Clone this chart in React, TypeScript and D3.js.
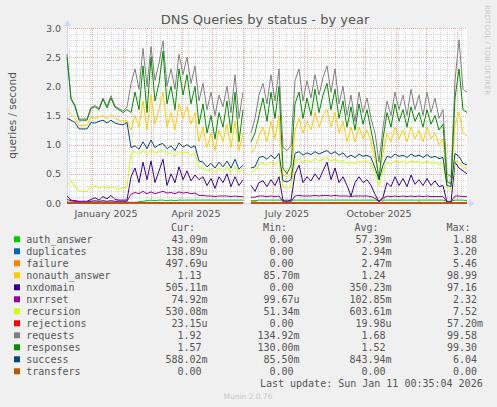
import React, { useEffect } from 'react'
import * as d3 from 'd3'

// samples every 4 days starting 2024-12-07, null = gap in data
const startDate = new Date(2024, 11, 7)
const endDate = new Date(2026, 0, 11)
const stepDays = 4

const auth_answer = [0.02,0.01,0.01,0.01,0.01,0.01,0.02,0.02,0.02,0.02,
  0.02,0.02,0.02,0.02,0.02,0.02,0.01,0.01,0.02,0.03,
  0.04,0.05,0.04,0.05,0.05,0.04,0.05,0.04,0.05,0.05,
  0.05,0.05,0.05,0.05,0.05,0.05,0.05,0.05,0.05,0.05,
  0.05,0.05,0.05,0.05,0.05,null,0.04,0.04,0.05,0.05,
  0.05,0.05,0.05,0.05,0.05,0.05,0.05,0.05,0.05,0.05,
  0.05,0.05,0.05,0.05,0.05,0.05,0.05,0.05,0.05,0.05,
  0.05,0.05,0.05,0.05,0.05,0.05,0.05,0.05,0.04,0.05,
  0.05,0.05,0.05,0.05,0.05,0.05,0.05,0.05,0.05,0.05,
  0.05,0.05,0.05,0.05,0.05,0.03,0.03,0.05,0.05,0.05,
  0.04]
const duplicates = [0,0,0,0,0,0,0,0,0,0,
  0,0,0,0,0,0,0.01,0.01,0.01,0.01,
  0.01,0.01,0.01,0,0,0,0,0,0,0,
  0,0,0,0,0,0,0,0,0,0,
  0,0,0,0,0,null,0,0,0,0,
  0,0,0,0,0,0,0,0,0,0,
  0,0,0,0,0,0,0,0,0,0,
  0,0,0,0,0,0,0,0,0,0,
  0,0,0,0,0,0,0,0,0,0,
  0,0,0,0,0,0,0,0,0,0,
  0]
const failure = [0,0.02,0.02,0.02,0,0,0,0,0,0,
  0,0,0,0,0,0,0,0,0,0,
  0,0,0,0,0,0,0,0,0,0,
  0,0,0,0,0,0,0,0,0,0,
  0,0,0,0,0,null,0.02,0.03,0,0,
  0,0,0,0,0,0,0,0,0,0,
  0,0,0,0,0,0,0,0,0,0,
  0,0,0,0,0,0,0,0,0,0.02,
  0,0,0,0,0,0,0,0,0.02,0,
  0,0,0,0,0,0,0,0,0.01,0,
  0]
const nonauth_answer = [1.6,1.52,1.45,1.33,1.33,1.33,1.47,1.45,1.48,1.5,
  1.44,1.52,1.45,1.42,1.4,1.42,1.25,1.5,1.3,1.75,
  1.25,1.85,1.35,1.6,1.9,1.3,1.55,1.25,1.7,1.45,
  1.65,1.35,1.55,1.05,1.3,0.95,1.2,0.9,1.25,1.05,
  1.35,0.95,1.4,0.9,1.2,null,0.85,0.95,1.15,1.3,
  1.05,1.4,1.1,1.5,0.48,0.45,0.5,1.25,1.45,1.2,
  1.4,1.25,1.55,1.3,1.5,1.6,1.3,1.55,1.2,1.4,
  1.05,1.3,1.05,1.3,1.1,1.25,1.05,0.75,0.45,0.85,
  1.2,1.05,1.3,1.1,1.25,1.05,1.3,1.1,1.25,1.05,
  1.3,1.1,1.2,1.0,1.1,0.35,0.35,1.35,1.55,1.2,
  1.15]
const nxdomain = [0.12,0.05,0.04,0.03,0.03,0.03,0.06,0.09,0.05,0.11,
  0.07,0.13,0.06,0.05,0.05,0.05,0.45,0.6,0.35,0.7,
  0.4,0.72,0.35,0.55,0.75,0.3,0.5,0.35,0.62,0.4,
  0.55,0.38,0.48,0.4,0.45,0.3,0.42,0.25,0.45,0.35,
  0.5,0.28,0.45,0.3,0.4,null,0.3,0.2,0.35,0.38,
  0.28,0.4,0.3,0.45,0.04,0.03,0.05,0.5,0.65,0.35,
  0.45,0.38,0.5,0.4,0.55,0.7,0.4,0.6,0.35,0.45,
  0.3,0.12,0.35,0.45,0.35,0.4,0.3,0.15,0.02,0.1,
  0.35,0.28,0.45,0.3,0.42,0.28,0.48,0.32,0.4,0.3,
  0.42,0.3,0.38,0.28,0.3,0.01,0.01,0.7,0.6,0.55,
  0.5]
const nxrrset = [0.06,0.04,0.03,0.02,0.02,0.02,0.03,0.04,0.03,0.04,
  0.03,0.04,0.03,0.03,0.03,0.03,0.15,0.18,0.16,0.2,
  0.16,0.19,0.16,0.18,0.2,0.17,0.18,0.16,0.19,0.17,
  0.18,0.16,0.17,0.13,0.13,0.12,0.12,0.11,0.12,0.12,
  0.12,0.11,0.12,0.11,0.11,null,0.1,0.1,0.12,0.12,
  0.11,0.12,0.11,0.12,0.02,0.02,0.02,0.12,0.13,0.12,
  0.12,0.12,0.13,0.12,0.13,0.13,0.12,0.13,0.12,0.12,
  0.12,0.11,0.12,0.12,0.12,0.12,0.11,0.08,0.03,0.08,
  0.12,0.11,0.12,0.11,0.12,0.11,0.12,0.11,0.12,0.11,
  0.12,0.11,0.11,0.11,0.11,0.02,0.02,0.12,0.12,0.11,
  0.11]
const recursion = [0.3,0.38,0.29,0.2,0.2,0.2,0.27,0.3,0.26,0.28,
  0.25,0.28,0.25,0.24,0.26,0.27,0.85,0.88,0.82,0.9,
  0.83,0.92,0.85,0.88,0.9,0.83,0.86,0.8,0.88,0.85,
  0.87,0.82,0.85,0.6,0.6,0.55,0.58,0.52,0.6,0.55,
  0.62,0.52,0.63,0.52,0.58,null,0.52,0.55,0.66,0.68,
  0.65,0.7,0.66,0.72,0.27,0.25,0.28,0.72,0.75,0.7,
  0.74,0.7,0.76,0.72,0.75,0.77,0.72,0.75,0.7,0.74,
  0.68,0.7,0.68,0.72,0.7,0.71,0.68,0.5,0.3,0.55,
  0.7,0.68,0.72,0.7,0.71,0.68,0.72,0.7,0.71,0.68,
  0.72,0.68,0.7,0.66,0.68,0.25,0.24,0.72,0.7,0.62,
  0.6]
const rejections = [0,0,0,0,0,0,0,0,0,0,
  0,0,0,0,0,0,0,0,0,0,
  0,0,0,0,0,0,0,0,0,0,
  0,0,0,0,0,0,0,0,0,0,
  0,0,0,0,0,null,0,0,0,0,
  0,0,0,0,0,0,0,0,0,0,
  0,0,0,0,0,0,0,0,0,0,
  0,0,0,0,0,0,0,0,0,0,
  0,0,0,0,0,0,0,0,0,0,
  0,0,0,0,0,0,0,0,0,0,
  0]
const requests = [2.55,1.8,1.68,1.44,1.44,1.44,1.64,1.67,1.62,1.8,
  1.66,1.84,1.66,1.62,1.58,1.64,2.05,2.3,1.95,2.65,
  2.0,2.68,2.1,2.4,2.78,2.0,2.3,1.95,2.55,2.2,
  2.5,2.05,2.35,1.75,2.05,1.6,1.9,1.5,1.85,1.65,
  2.0,1.55,2.2,1.45,1.9,null,1.2,1.45,1.85,2.05,
  1.7,2.2,1.75,2.3,0.95,0.9,0.98,2.1,2.3,1.75,
  2.1,1.8,2.2,1.85,2.15,2.35,1.9,2.3,1.7,2.0,
  1.5,1.85,1.4,1.9,1.55,1.8,1.45,1.2,0.7,1.3,
  1.75,1.5,1.9,1.6,1.85,1.5,1.95,1.6,1.85,1.5,
  1.9,1.55,1.8,1.45,1.6,0.5,0.45,2.1,2.8,1.95,
  1.9]
const responses = [2.5,1.78,1.65,1.42,1.42,1.42,1.62,1.65,1.6,1.78,
  1.63,1.8,1.64,1.6,1.55,1.6,1.55,1.9,1.6,2.35,
  1.55,2.5,1.75,2.05,2.6,1.7,2.0,1.6,2.3,1.85,
  2.2,1.7,2.0,1.35,1.7,1.2,1.5,1.1,1.55,1.3,
  1.75,1.2,1.9,1.05,1.6,null,1.05,1.2,1.5,1.8,
  1.4,1.9,1.45,2.0,0.6,0.5,0.65,1.7,1.9,1.45,
  1.8,1.5,1.95,1.55,1.85,2.05,1.6,1.95,1.45,1.75,
  1.3,1.65,1.25,1.7,1.35,1.6,1.25,0.9,0.4,1.1,
  1.55,1.3,1.7,1.4,1.6,1.3,1.65,1.4,1.55,1.3,
  1.6,1.35,1.5,1.25,1.35,0.38,0.32,1.8,2.3,1.6,
  1.55]
const success = [1.45,1.42,1.38,1.27,1.27,1.27,1.38,1.37,1.4,1.42,
  1.37,1.42,1.37,1.35,1.34,1.38,0.95,0.98,0.92,1.05,
  0.93,1.08,0.95,1.0,1.02,0.93,0.98,0.9,1.03,0.96,
  1.0,0.95,0.98,0.72,0.7,0.62,0.68,0.6,0.7,0.62,
  0.72,0.6,0.75,0.58,0.65,null,0.6,0.62,0.78,0.8,
  0.75,0.82,0.76,0.85,0.38,0.36,0.4,0.85,0.88,0.82,
  0.86,0.83,0.88,0.84,0.87,0.9,0.84,0.88,0.82,0.86,
  0.78,0.82,0.78,0.84,0.8,0.82,0.78,0.6,0.4,0.65,
  0.8,0.78,0.84,0.8,0.82,0.78,0.84,0.8,0.82,0.78,
  0.83,0.78,0.8,0.76,0.78,0.3,0.28,0.85,0.8,0.68,
  0.65]
const transfers = [0,0,0,0,0,0,0,0,0,0,
  0,0,0,0,0,0,0,0,0,0,
  0,0,0,0,0,0,0,0,0,0,
  0,0,0,0,0,0,0,0,0,0,
  0,0,0,0,0,null,0,0,0,0,
  0,0,0,0,0,0,0,0,0,0,
  0,0,0,0,0,0,0,0,0,0,
  0,0,0,0,0,0,0,0,0,0,
  0,0,0,0,0,0,0,0,0,0,
  0,0,0,0,0,0,0,0,0,0,
  0]

const seriesNames = ['auth_answer', 'duplicates', 'failure', 'nonauth_answer', 'nxdomain', 'nxrrset',
  'recursion', 'rejections', 'requests', 'responses', 'success', 'transfers']
const seriesValues = [auth_answer, duplicates, failure, nonauth_answer, nxdomain, nxrrset,
  recursion, rejections, requests, responses, success, transfers]
const seriesColors = ['#00CC00', '#0066B3', '#FF8000', '#FFCC00', '#330099', '#990099',
  '#CCFF00', '#FF0000', '#808080', '#008F00', '#00487D', '#B35A00']

const curValues = ['43.09m', '138.89u', '497.69u', '1.13', '505.11m', '74.92m', '530.08m', '23.15u', '1.92', '1.57', '588.02m', '0.00']
const minValues = ['0.00', '0.00', '0.00', '85.70m', '0.00', '99.67u', '51.34m', '0.00', '134.92m', '130.00m', '85.50m', '0.00']
const avgValues = ['57.39m', '2.94m', '2.47m', '1.24', '350.23m', '102.85m', '603.61m', '19.98u', '1.68', '1.52', '843.94m', '0.00']
const maxValues = ['1.88', '3.20', '5.46', '98.99', '97.16', '2.32', '7.52', '57.20m', '99.58', '99.30', '6.04', '0.00']
const columnHeaders = ['Cur:', 'Min:', 'Avg:', 'Max:']

const W = 497
const H = 407
const plot = { left: 67, top: 28, width: 400, height: 175 }
const sans = '"DejaVu Sans", sans-serif'
const mono = '"DejaVu Sans Mono", monospace'

export default function App() {
  useEffect(() => {
    document.body.style.margin = '0'
    document.body.style.background = '#F0F0F0'
  }, [])

  const x = d3.scaleTime().domain([startDate, endDate]).range([plot.left, plot.left + plot.width])
  const y = d3.scaleLinear().domain([0, 3]).range([plot.top + plot.height, plot.top])
  const dates = requests.map((_, i) => d3.timeDay.offset(startDate, i * stepDays))

  const line = d3.line<number | null>()
    .defined(d => d !== null)
    .x((_, i) => x(dates[i]))
    .y(d => y(d as number))

  const bottom = plot.top + plot.height
  const right = plot.left + plot.width
  const minorY = y.ticks(30)
  const majorY = y.ticks(6)
  const minorX = d3.timeMonday.range(startDate, endDate)
  const majorX = d3.timeMonth.range(startDate, endDate)
  // month labels sit half a month after the tick, like rrdtool does
  const labelX = d3.timeMonth.every(3)!.range(startDate, endDate)
    .filter(t => d3.timeDay.offset(t, 14) < endDate)
  const fmt = d3.timeFormat('%B %Y')

  const colNumEnd = [201.5, 293.5, 385.5, 477]
  const colHeadEnd = [195, 287, 378.5, 470.5]
  const columns = [curValues, minValues, avgValues, maxValues]
  const rowY = (k: number) => 243.3 + k * 12

  const splitVal = (v: string) => {
    const last = v[v.length - 1]
    return /[a-z]/i.test(last) ? [v.slice(0, -1), last] : [v, '']
  }

  return (
    <svg width={W} height={H} style={{ position: 'absolute', left: 0, top: 0, display: 'block' }}>
      <rect width={W} height={H} fill="#F0F0F0" />
      <rect x={plot.left} y={plot.top} width={plot.width} height={plot.height} fill="#FFFFFF" />

      {/* grid */}
      <g shapeRendering="crispEdges" strokeDasharray="1,1" strokeWidth={1}>
        {minorY.map(t => (
          <line key={'my' + t} x1={plot.left} x2={right} y1={Math.round(y(t)) + 0.5} y2={Math.round(y(t)) + 0.5} stroke="#D4D4D4" />
        ))}
        {minorX.map(t => (
          <line key={'mx' + t.getTime()} x1={Math.round(x(t)) + 0.5} x2={Math.round(x(t)) + 0.5} y1={plot.top} y2={bottom} stroke="#D4D4D4" />
        ))}
        {majorY.map(t => (
          <line key={'My' + t} x1={plot.left} x2={right} y1={Math.round(y(t)) + 0.5} y2={Math.round(y(t)) + 0.5} stroke="#EBA3A3" />
        ))}
        {majorX.map(t => (
          <line key={'Mx' + t.getTime()} x1={Math.round(x(t)) + 0.5} x2={Math.round(x(t)) + 0.5} y1={plot.top} y2={bottom} stroke="#EBA3A3" />
        ))}
      </g>

      {/* axes */}
      <line x1={plot.left + 0.5} x2={plot.left + 0.5} y1={bottom} y2={plot.top - 4} stroke="#CFD6F8" />
      <path d={`M${plot.left - 3},${plot.top - 2} L${plot.left + 0.5},${plot.top - 8} L${plot.left + 4},${plot.top - 2} Z`} fill="#CFD6F8" />
      <line x1={plot.left} x2={right + 4} y1={bottom + 0.5} y2={bottom + 0.5} stroke="#CFD6F8" />
      <path d={`M${right + 2},${bottom - 3} L${right + 8},${bottom + 0.5} L${right + 2},${bottom + 4} Z`} fill="#CFD6F8" />

      {/* series */}
      <g fill="none" strokeWidth={1}>
        {seriesValues.map((vals, i) => (
          <path key={seriesNames[i]} d={line(vals) || ''} stroke={seriesColors[i]} />
        ))}
      </g>

      {/* y ticks */}
      <g fontFamily={sans} fontSize={9.5} fill="#555555" textAnchor="end">
        {majorY.map(t => (
          <text key={'yt' + t} x={61} y={y(t) + 3.5}>{t.toFixed(1)}</text>
        ))}
      </g>
      {/* x labels */}
      <g fontFamily={sans} fontSize={9.5} fill="#555555" textAnchor="middle">
        {labelX.map(t => (
          <text key={'xl' + t.getTime()} x={x(d3.timeDay.offset(t, 14))} y={216.5}>{fmt(t)}</text>
        ))}
      </g>

      <text x={265} y={24} fontFamily={sans} fontSize={13} fill="#555555" textAnchor="middle">
        DNS Queries by status - by year
      </text>
      <text transform={`translate(15.5,${plot.top + plot.height / 2}) rotate(-90)`} fontFamily={sans} fontSize={10.5}
        fill="#555555" textAnchor="middle">queries / second</text>
      <text transform="translate(485,5) rotate(90)" fontFamily={sans} fontSize={7} fill="#C8C8C8">
        RRDTOOL / TOBI OETIKER
      </text>

      {/* legend */}
      <g fontFamily={mono} fontSize={10} fill="#555555">
        {columnHeaders.map((h, c) => (
          <text key={h} x={colHeadEnd[c]} y={230.8} textAnchor="end">{h}</text>
        ))}
        {seriesNames.map((name, k) => (
          <g key={name}>
            <rect x={14} y={rowY(k) - 7} width={6} height={6} fill={seriesColors[k]} />
            <text x={26.3} y={rowY(k)}>{name}</text>
            {columns.map((col, c) => {
              const [num, unit] = splitVal(col[k])
              return (
                <g key={c}>
                  <text x={colNumEnd[c]} y={rowY(k)} textAnchor="end">{num}</text>
                  {unit && <text x={colNumEnd[c]} y={rowY(k)}>{unit}</text>}
                </g>
              )
            })}
          </g>
        ))}
        <text x={482.7} y={rowY(12)} textAnchor="end">Last update: Sun Jan 11 00:35:04 2026</text>
      </g>
      <text x={248} y={399} fontFamily={sans} fontSize={7.5} fill="#C8C8C8" textAnchor="middle">Munin 2.0.76</text>
    </svg>
  )
}
